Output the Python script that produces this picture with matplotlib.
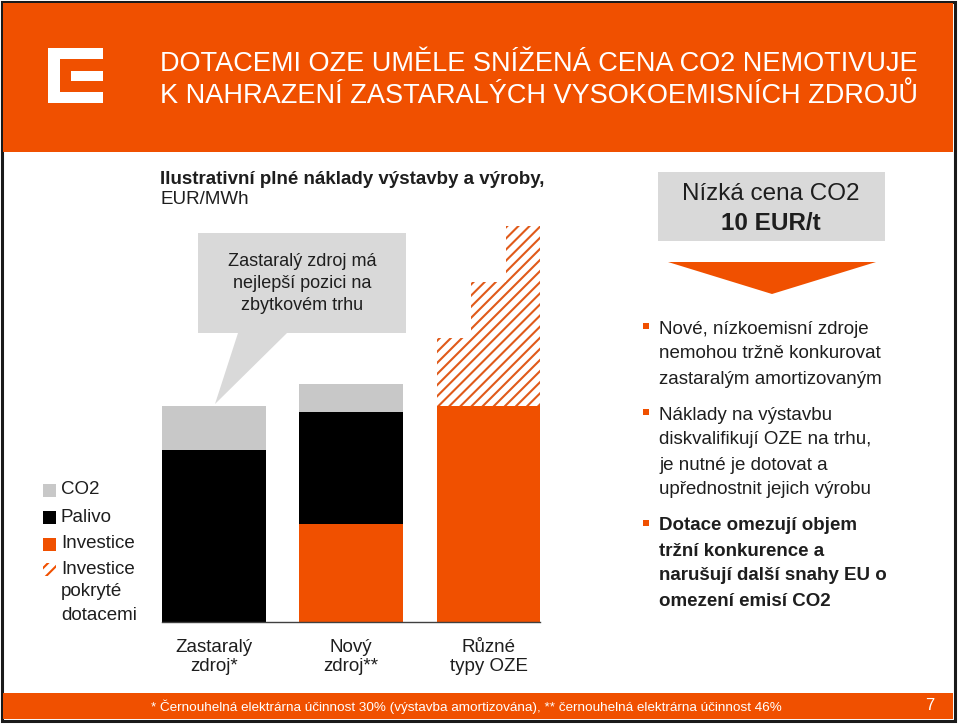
import matplotlib
matplotlib.use("Agg")
import matplotlib.pyplot as plt
from matplotlib.patches import Rectangle, Polygon
from matplotlib import font_manager

# data (illustrative costs, EUR/MWh)
categories = ["Zastaralý\nzdroj*", "Nový\nzdroj**", "Různé\ntypy OZE"]
investice = [0, 24.5, 54]
palivo = [43, 28, 0]
co2 = [11, 7, 0]
dotace_steps = [17, 31, 45]   # subsidised investment on top of OZE bar

legend_labels = ["CO2", "Palivo", "Investice", "Investice\npokryté\ndotacemi"]
title_lines = ["DOTACEMI OZE UMĚLE SNÍŽENÁ CENA CO2 NEMOTIVUJE",
               "K NAHRAZENÍ ZASTARALÝCH VYSOKOEMISNÍCH ZDROJŮ"]
callout = ["Zastaralý zdroj má", "nejlepší pozici na", "zbytkovém trhu"]
bullets = [
    (["Nové, nízkoemisní zdroje", "nemohou tržně konkurovat", "zastaralým amortizovaným"], "normal"),
    (["Náklady na výstavbu", "diskvalifikují OZE na trhu,", "je nutné je dotovat a",
      "upřednostnit jejich výrobu"], "normal"),
    (["Dotace omezují objem", "tržní konkurence a", "narušují další snahy EU o",
      "omezení emisí CO2"], "bold"),
]
footnote = "* Černouhelná elektrárna účinnost 30% (výstavba amortizována), ** černouhelná elektrárna účinnost 46%"

ORANGE = "#F05000"
HATCH = "#E05A1A"
GRAY = "#C8C8C8"
LIGHT = "#D9D9D9"
TXT = "#1E1E1E"

names = {f.name for f in font_manager.fontManager.ttflist}
NARROW = "Liberation Sans Narrow" in names
plt.rcParams["font.family"] = ["Liberation Sans", "DejaVu Sans"]
plt.rcParams["hatch.linewidth"] = 1.5

fig = plt.figure(figsize=(9.6, 7.24), dpi=100)
bg = fig.add_axes([0, 0, 1, 1])
bg.set_xlim(0, 960)
bg.set_ylim(724, 0)
bg.axis("off")

# frame, header, footer
bg.add_patch(Rectangle((1.5, 1.5), 953, 719, fill=False, ec="#1A1A1A", lw=2.2))
bg.add_patch(Rectangle((3, 3), 950, 149, fc=ORANGE, ec="none"))
bg.add_patch(Rectangle((3, 693), 950, 26, fc=ORANGE, ec="none"))

# logo
bg.add_patch(Rectangle((48, 48), 55, 55, fc="white", ec="none"))
bg.add_patch(Rectangle((60, 59), 43, 33, fc=ORANGE, ec="none"))
bg.add_patch(Rectangle((71, 71), 32, 10, fc="white", ec="none"))

tfam = ["Liberation Sans Narrow"] if NARROW else ["Liberation Sans"]
tsize = 23.5 if NARROW else 19.5
for i, line in enumerate(title_lines):
    bg.text(160, 64 + 32 * i, line, color="white", fontsize=tsize, family=tfam,
            va="center", ha="left")

fsize = 11.6 if NARROW else 9.7
bg.text(466, 707, footnote, color="white", fontsize=fsize, family=tfam,
        ha="center", va="center")
bg.text(930, 706, "7", color="white", fontsize=12, ha="center", va="center")

# heading
bg.text(160, 180, "Ilustrativní plné náklady výstavby a výroby,", fontsize=13.5,
        fontweight="bold", color=TXT, va="center")
bg.text(160, 200, "EUR/MWh", fontsize=13.5, color=TXT, va="center")

# callout
bg.add_patch(Polygon([(198, 233), (406, 233), (406, 333), (287, 333), (215, 404),
                      (238, 333), (198, 333)], closed=True, fc=LIGHT, ec="none"))
for i, line in enumerate(callout):
    bg.text(302, 262 + 22 * i, line, fontsize=13, color=TXT, ha="center", va="center")

# legend
leg_y = [490, 517, 544, 569]
for i, lab in enumerate(legend_labels):
    y = leg_y[i]
    if i == 3:
        bg.add_patch(Rectangle((43, y - 6), 13, 13, fc="white", ec=ORANGE, lw=0,
                               hatch="///"))
    else:
        col = [GRAY, "black", ORANGE][i]
        bg.add_patch(Rectangle((43, y - 6), 13, 13, fc=col, ec="none"))
    for k, part in enumerate(lab.split("\n")):
        bg.text(61, y + 23 * k, part, fontsize=13.5, color=TXT, va="center", ha="left")

# right panel
bg.add_patch(Rectangle((658, 172), 227, 69, fc=LIGHT, ec="none"))
bg.text(771, 194, "Nízká cena CO2", fontsize=17.5, color=TXT, ha="center", va="center")
bg.text(771, 224, "10 EUR/t", fontsize=17.5, fontweight="bold", color=TXT,
        ha="center", va="center")
bg.add_patch(Polygon([(668, 262), (876, 262), (772, 294)], closed=True, fc=ORANGE, ec="none"))

y0 = 329
for lines, w in bullets:
    bg.add_patch(Rectangle((643, y0 - 6), 6, 6, fc=ORANGE, ec="none"))
    for line in lines:
        bg.text(659, y0, line, fontsize=13.5, fontweight=w, color=TXT, va="center",
                ha="left")
        y0 += 25
    y0 += 11

# bar chart
ax = fig.add_axes([162 / 960, 102 / 724, 378 / 960, 472 / 724])
ax.patch.set_alpha(0)
x = list(range(len(categories)))
w = 0.758
ax.bar(x, investice, w, color=ORANGE, lw=0)
ax.bar(x, palivo, w, bottom=investice, color="black", lw=0)
bot2 = [a + b for a, b in zip(investice, palivo)]
ax.bar(x, co2, w, bottom=bot2, color=GRAY, lw=0)

left3 = 2 - w / 2
sw = w / len(dotace_steps)
xs = [left3 + sw * k for k in range(len(dotace_steps))]
ax.bar(xs, dotace_steps, sw, bottom=investice[2], align="edge", color="white",
       edgecolor=HATCH, lw=0, hatch="///")

ax.set_xlim(-0.379, 2.375)
ax.set_ylim(0, 118)
for s in ["top", "right", "left"]:
    ax.spines[s].set_visible(False)
ax.spines["bottom"].set_color("#404040")
ax.spines["bottom"].set_linewidth(1)
ax.set_yticks([])
ax.set_xticks(x, categories)
ax.tick_params(axis="x", length=0, pad=12, labelsize=13.5, labelcolor=TXT)
for lbl in ax.get_xticklabels():
    lbl.set_linespacing(1.2)

fig.savefig("out.png", dpi=100)
